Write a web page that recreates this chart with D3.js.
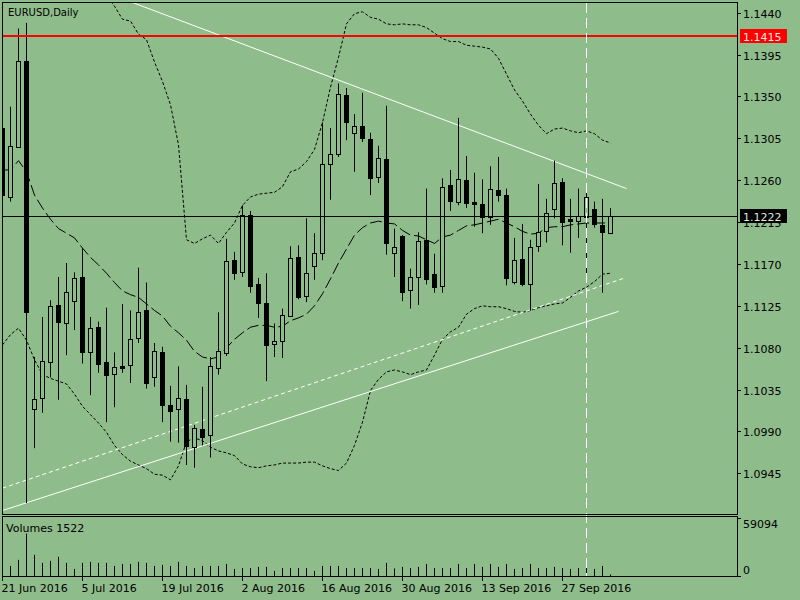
<!DOCTYPE html>
<html>
<head>
<meta charset="utf-8">
<script src="https://cdn.jsdelivr.net/npm/d3@7"></script>
<style>
  html, body { margin: 0; padding: 0; background: #8fbc8b; }
  svg { display: block; }
  text { font-family: "DejaVu Sans", sans-serif; font-size: 11px; fill: #000; }
</style>
</head>
<body>
<svg id="chart" width="800" height="600"></svg>
<script>
// ---------------- DATA ----------------
const symbolTitle = "EURUSD,Daily";
const volumeTitle = "Volumes 1522";

const dates = [
  "21 Jun 2016","22 Jun 2016","23 Jun 2016","24 Jun 2016",
  "27 Jun 2016","28 Jun 2016","29 Jun 2016","30 Jun 2016","1 Jul 2016",
  "4 Jul 2016","5 Jul 2016","6 Jul 2016","7 Jul 2016","8 Jul 2016",
  "11 Jul 2016","12 Jul 2016","13 Jul 2016","14 Jul 2016","15 Jul 2016",
  "18 Jul 2016","19 Jul 2016","20 Jul 2016","21 Jul 2016","22 Jul 2016",
  "25 Jul 2016","26 Jul 2016","27 Jul 2016","28 Jul 2016","29 Jul 2016",
  "1 Aug 2016","2 Aug 2016","3 Aug 2016","4 Aug 2016","5 Aug 2016",
  "8 Aug 2016","9 Aug 2016","10 Aug 2016","11 Aug 2016","12 Aug 2016",
  "15 Aug 2016","16 Aug 2016","17 Aug 2016","18 Aug 2016","19 Aug 2016",
  "22 Aug 2016","23 Aug 2016","24 Aug 2016","25 Aug 2016","26 Aug 2016",
  "29 Aug 2016","30 Aug 2016","31 Aug 2016","1 Sep 2016","2 Sep 2016",
  "5 Sep 2016","6 Sep 2016","7 Sep 2016","8 Sep 2016","9 Sep 2016",
  "12 Sep 2016","13 Sep 2016","14 Sep 2016","15 Sep 2016","16 Sep 2016",
  "19 Sep 2016","20 Sep 2016","21 Sep 2016","22 Sep 2016","23 Sep 2016",
  "26 Sep 2016","27 Sep 2016","28 Sep 2016","29 Sep 2016","30 Sep 2016",
  "3 Oct 2016","4 Oct 2016","5 Oct 2016"
];

const open = [
  1.1316,1.1242,1.1296,1.1388,
  1.1014,1.1026,1.1065,1.1126,1.1106,
  1.1130,1.1156,1.1075,1.1102,1.1065,
  1.1052,1.1060,1.1061,1.1090,1.1120,
  1.1048,1.1075,1.1018,1.1014,1.1025,
  1.0973,1.0993,1.0986,1.1058,1.1074,
  1.1174,1.1161,1.1223,1.1148,1.1128,
  1.1084,1.1087,1.1114,1.1177,1.1136,
  1.1168,1.1182,1.1277,1.1288,1.1352,
  1.1311,1.1318,1.1304,1.1263,1.1283,
  1.1182,1.1200,1.1142,1.1156,1.1196,
  1.1159,1.1146,1.1255,1.1237,1.1260,
  1.1237,1.1234,1.1220,1.1249,1.1244,
  1.1151,1.1175,1.1148,1.1189,1.1205,
  1.1229,1.1258,1.1218,1.1216,1.1220,
  1.1229,1.1212,1.1203
];
const high = [
  1.1325,1.1339,1.1423,1.1429,
  1.1070,1.1113,1.1131,1.1156,1.1171,
  1.1161,1.1187,1.1113,1.1108,1.1123,
  1.1075,1.1127,1.1120,1.1166,1.1150,
  1.1085,1.1081,1.1039,1.1060,1.1040,
  1.0997,1.1038,1.1070,1.1118,1.1197,
  1.1183,1.1233,1.1227,1.1155,1.1160,
  1.1106,1.1122,1.1189,1.1190,1.1219,
  1.1203,1.1322,1.1316,1.1364,1.1359,
  1.1331,1.1354,1.1311,1.1297,1.1340,
  1.1208,1.1201,1.1165,1.1204,1.1251,
  1.1181,1.1262,1.1271,1.1327,1.1286,
  1.1268,1.1261,1.1275,1.1285,1.1251,
  1.1198,1.1213,1.1196,1.1256,1.1240,
  1.1281,1.1262,1.1240,1.1251,1.1249,
  1.1237,1.1240,1.1230
];
const low = [
  1.1236,1.1237,1.1295,1.0913,
  1.0972,1.1010,1.1048,1.1024,1.1072,
  1.1099,1.1063,1.1029,1.1053,1.1000,
  1.1016,1.1053,1.1042,1.1085,1.1036,
  1.1038,1.1000,1.0979,1.0978,1.0954,
  1.0951,1.0975,1.0962,1.1051,1.1071,
  1.1153,1.1156,1.1139,1.1112,1.1044,
  1.1070,1.1069,1.1113,1.1132,1.1129,
  1.1153,1.1174,1.1239,1.1285,1.1303,
  1.1269,1.1301,1.1244,1.1257,1.1180,
  1.1156,1.1130,1.1122,1.1126,1.1148,
  1.1139,1.1139,1.1227,1.1233,1.1230,
  1.1210,1.1203,1.1212,1.1237,1.1147,
  1.1148,1.1146,1.1120,1.1183,1.1193,
  1.1219,1.1190,1.1182,1.1198,1.1150,
  1.1209,1.1139,1.1202
];
const close = [
  1.1244,1.1297,1.1388,1.1118,
  1.1025,1.1066,1.1125,1.1108,1.1140,
  1.1155,1.1075,1.1101,1.1063,1.1051,
  1.1059,1.1058,1.1089,1.1118,1.1042,
  1.1076,1.1018,1.1012,1.1026,1.0974,
  1.0994,1.0984,1.1060,1.1076,1.1173,
  1.1160,1.1223,1.1146,1.1128,1.1083,
  1.1087,1.1115,1.1176,1.1134,1.1160,
  1.1182,1.1277,1.1288,1.1353,1.1323,
  1.1318,1.1305,1.1262,1.1284,1.1193,
  1.1188,1.1140,1.1156,1.1195,1.1154,
  1.1145,1.1253,1.1238,1.1261,1.1236,
  1.1234,1.1220,1.1251,1.1244,1.1155,
  1.1174,1.1148,1.1188,1.1204,1.1225,
  1.1257,1.1215,1.1216,1.1222,1.1242,
  1.1213,1.1204,1.1222
];
const volume = [
  12000,10190,16300,42800,
  21400,13250,15300,19400,13250,
  7130,13250,14270,13250,13250,
  10190,12230,12230,14270,13250,
  10190,11200,10190,14270,10190,
  8150,10190,10190,10190,12230,
  7130,8150,8150,9170,9170,
  5100,8150,8150,8150,8150,
  5100,10190,10190,10190,8150,
  8150,8150,8150,7130,13250,
  7600,9170,8150,9170,12230,
  8150,8150,8150,12230,8150,
  12230,9170,12230,9170,12230,
  7130,8150,12230,8150,8150,
  9170,8150,7130,8150,11200,
  7130,10190,1522
];
// Bollinger-style envelope lines (dotted) and the long-dash average
const bandUpper = [
  1.1460,1.1462,1.1470,1.1500,
  1.1530,1.1545,1.1550,1.1550,1.1545,
  1.1535,1.1490,1.1478,1.1468,1.1459,
  1.1447,1.1433,1.1431,1.1417,1.1411,
  1.1387,1.1366,1.1341,1.1298,1.1196,
  1.1192,1.1197,1.1201,1.1192,1.1204,
  1.1214,1.1233,1.1242,1.1245,1.1246,
  1.1247,1.1253,1.1269,1.1272,1.1280,
  1.1293,1.1322,1.1360,1.1392,1.1428,
  1.1439,1.1441,1.1435,1.1433,1.1428,
  1.1427,1.1428,1.1427,1.1427,1.1424,
  1.1418,1.1412,1.1409,1.1409,1.1405,
  1.1404,1.1403,1.1401,1.1391,1.1374,
  1.1357,1.1345,1.1331,1.1319,1.1310,
  1.1315,1.1316,1.1313,1.1311,1.1313,
  1.1310,1.1303,1.1300
];
const bandMiddle = [
  1.1271,1.1271,1.1281,1.1269,
  1.1244,1.1230,1.1218,1.1208,1.1203,
  1.1198,1.1187,1.1177,1.1169,1.1160,
  1.1150,1.1141,1.1137,1.1134,1.1127,
  1.1120,1.1114,1.1103,1.1096,1.1088,
  1.1076,1.1070,1.1068,1.1070,1.1080,
  1.1089,1.1096,1.1102,1.1104,1.1104,
  1.1102,1.1103,1.1109,1.1112,1.1116,
  1.1125,1.1138,1.1154,1.1171,1.1186,
  1.1201,1.1209,1.1214,1.1216,1.1214,
  1.1213,1.1206,1.1201,1.1200,1.1196,
  1.1192,1.1199,1.1201,1.1206,1.1211,
  1.1212,1.1214,1.1216,1.1218,1.1214,
  1.1210,1.1205,1.1202,1.1203,1.1209,
  1.1210,1.1210,1.1212,1.1213,1.1214,
  1.1214,1.1214,1.1214
];
const bandLower = [
  1.1083,1.1094,1.1101,1.1088,
  1.1067,1.1051,1.1047,1.1044,1.1041,
  1.1030,1.1017,1.1008,1.0999,1.0989,
  1.0975,1.0965,1.0958,1.0954,1.0950,
  1.0944,1.0943,1.0938,1.0953,1.0979,
  1.0983,1.0980,1.0973,1.0969,1.0967,
  1.0964,1.0955,1.0952,1.0951,1.0953,
  1.0954,1.0956,1.0956,1.0956,1.0957,
  1.0957,1.0953,1.0950,1.0948,1.0956,
  1.0975,1.1000,1.1034,1.1046,1.1054,
  1.1056,1.1054,1.1051,1.1054,1.1056,
  1.1072,1.1089,1.1097,1.1102,1.1116,
  1.1122,1.1125,1.1124,1.1124,1.1122,
  1.1119,1.1118,1.1120,1.1123,1.1125,
  1.1127,1.1128,1.1134,1.1141,1.1145,
  1.1151,1.1159,1.1160
];

// price axis tick labels
const priceTicks = [1.1440,1.1395,1.1350,1.1305,1.1260,1.1215,1.1170,1.1125,1.1080,1.1035,1.0990,1.0945];
// time axis labels
const dateTicks = ["21 Jun 2016","5 Jul 2016","19 Jul 2016","2 Aug 2016","16 Aug 2016","30 Aug 2016","13 Sep 2016","27 Sep 2016"];
// volume axis labels
const volumeTicks = [59094, 0];

// horizontal levels
const redLevel = 1.1415;
const bidLevel = 1.1222;
// trend lines: [bar index, price] anchor pairs
const trendDown = [[15, 1.1455], [78, 1.1251]];
const trendUpSolid = [[0, 1.0905], [77, 1.1119]];
const trendUpDashed = [[0, 1.0929], [77.8, 1.1155]];
// vertical separator at bar
const vlineDate = "30 Sep 2016";

// ---------------- DRAW ----------------
const bg = "#8fbc8b";
const svg = d3.select("#chart");
svg.append("rect").attr("width", 800).attr("height", 600).attr("fill", bg);

const plotL = 2.5, plotR = 737.5, mainT = 2.5, mainB = 514.5, volT = 516.5, volB = 576.5;

const x = d3.scaleLinear().domain([0, 76]).range([2.5, 610.5]);
const y = d3.scaleLinear().domain([1.0945, 1.1440]).range([473.3, 12.7]);
const yv = d3.scaleLinear().domain([0, 59094]).range([576, 517.5]);

const defs = svg.append("defs");
defs.append("clipPath").attr("id", "mainClip")
  .append("rect").attr("x", 3).attr("y", 3).attr("width", 734).attr("height", 511);
defs.append("clipPath").attr("id", "volClip")
  .append("rect").attr("x", 3).attr("y", 517).attr("width", 734).attr("height", 59);

const main = svg.append("g").attr("clip-path", "url(#mainClip)");

const idx = d3.range(dates.length);

// bands
const bandLine = arr => d3.line().x(i => x(i)).y(i => y(arr[i]))(idx);
main.append("path").attr("d", bandLine(bandUpper)).attr("fill", "none")
  .attr("stroke", "#000").attr("stroke-width", 1).attr("stroke-dasharray", "3,2");
main.append("path").attr("d", bandLine(bandLower)).attr("fill", "none")
  .attr("stroke", "#000").attr("stroke-width", 1).attr("stroke-dasharray", "3,2");
main.append("path").attr("d", bandLine(bandMiddle)).attr("fill", "none")
  .attr("stroke", "#000").attr("stroke-width", 1).attr("stroke-dasharray", "12,4");

// trend lines
const tl = (pts, dash) => {
  main.append("line")
    .attr("x1", x(pts[0][0])).attr("y1", y(pts[0][1]))
    .attr("x2", x(pts[1][0])).attr("y2", y(pts[1][1]))
    .attr("stroke", "#fff").attr("stroke-width", 1)
    .attr("stroke-dasharray", dash || null);
};
tl(trendDown);
tl(trendUpSolid);
tl(trendUpDashed, "4,3");

// candles
const candles = main.append("g");
idx.forEach(i => {
  const cx = Math.round(x(i) - 0.5) + 0.5;
  candles.append("line")
    .attr("x1", cx).attr("x2", cx)
    .attr("y1", y(high[i])).attr("y2", y(low[i]))
    .attr("stroke", "#000").attr("stroke-width", 1);
  const up = close[i] >= open[i];
  const yTop = y(Math.max(open[i], close[i]));
  const yBot = y(Math.min(open[i], close[i]));
  if (up) {
    candles.append("rect")
      .attr("x", cx - 2).attr("width", 4)
      .attr("y", Math.round(yTop) + 0.5).attr("height", Math.max(1, Math.round(yBot) - Math.round(yTop)))
      .attr("fill", bg).attr("stroke", "#000").attr("stroke-width", 1);
  } else {
    candles.append("rect")
      .attr("x", cx - 2.5).attr("width", 5)
      .attr("y", Math.round(yTop)).attr("height", Math.max(1, Math.round(yBot) - Math.round(yTop) + 1))
      .attr("fill", "#000");
  }
});

// horizontal levels
main.append("line").attr("x1", plotL).attr("x2", plotR)
  .attr("y1", y(redLevel)).attr("y2", y(redLevel))
  .attr("stroke", "#ff0000").attr("stroke-width", 2);
main.append("line").attr("x1", plotL).attr("x2", plotR)
  .attr("y1", Math.round(y(bidLevel)) + 0.5).attr("y2", Math.round(y(bidLevel)) + 0.5)
  .attr("stroke", "#000").attr("stroke-width", 1);

// volume bars
const vol = svg.append("g").attr("clip-path", "url(#volClip)");
idx.forEach(i => {
  const cx = Math.round(x(i) - 0.5) + 0.5;
  vol.append("line").attr("x1", cx).attr("x2", cx)
    .attr("y1", 576).attr("y2", yv(volume[i]))
    .attr("stroke", "#000").attr("stroke-width", 1);
});

// vertical dashed separator
const vi = dates.indexOf(vlineDate);
const vx = Math.round(x(vi) - 0.5) + 0.5;
svg.append("line").attr("x1", vx).attr("x2", vx).attr("y1", 3).attr("y2", 576)
  .attr("stroke", "#fff").attr("stroke-width", 1).attr("stroke-dasharray", "10,5");

// frames
svg.append("rect").attr("x", plotL).attr("y", mainT).attr("width", plotR - plotL).attr("height", mainB - mainT)
  .attr("fill", "none").attr("stroke", "#000");
svg.append("rect").attr("x", plotL).attr("y", volT).attr("width", plotR - plotL).attr("height", volB - volT)
  .attr("fill", "none").attr("stroke", "#000");

// price axis
const pa = svg.append("g");
priceTicks.forEach(p => {
  const ty = Math.round(y(p)) + 0.5;
  pa.append("line").attr("x1", 737).attr("x2", 741).attr("y1", ty).attr("y2", ty).attr("stroke", "#000");
  pa.append("text").attr("x", 743).attr("y", ty + 4.5).text(p.toFixed(4));
});

// level labels
const levelLabel = (p, fillC, txtC) => {
  const cy = y(p);
  pa.append("rect").attr("x", 740).attr("y", Math.round(cy) - 7).attr("width", 47).attr("height", 14).attr("fill", fillC);
  pa.append("text").attr("x", 743).attr("y", Math.round(cy) + 4.5).attr("fill", txtC).style("fill", txtC).text(p.toFixed(4));
};
levelLabel(redLevel, "#ff0000", "#f4e4e4");
levelLabel(bidLevel, "#000000", "#dfe8dc");

// volume axis
volumeTicks.forEach(v => {
  const ty = Math.round(yv(v)) + 0.5;
  pa.append("line").attr("x1", 737).attr("x2", 741).attr("y1", ty).attr("y2", ty).attr("stroke", "#000");
  pa.append("text").attr("x", 743).attr("y", v === 0 ? 574 : 528).text(String(v));
});

// time axis
dateTicks.forEach(lbl => {
  const i = dates.indexOf(lbl);
  const tx = Math.round(x(i) - 0.5) + 0.5;
  svg.append("line").attr("x1", tx).attr("x2", tx).attr("y1", 576).attr("y2", 581).attr("stroke", "#000");
  svg.append("text").attr("x", tx - 1).attr("y", 592).text(lbl);
});

// titles
svg.append("text").attr("x", 8).attr("y", 16).style("font-size", "10px").text(symbolTitle);
svg.append("text").attr("x", 6).attr("y", 532).text(volumeTitle);
</script>
</body>
</html>
